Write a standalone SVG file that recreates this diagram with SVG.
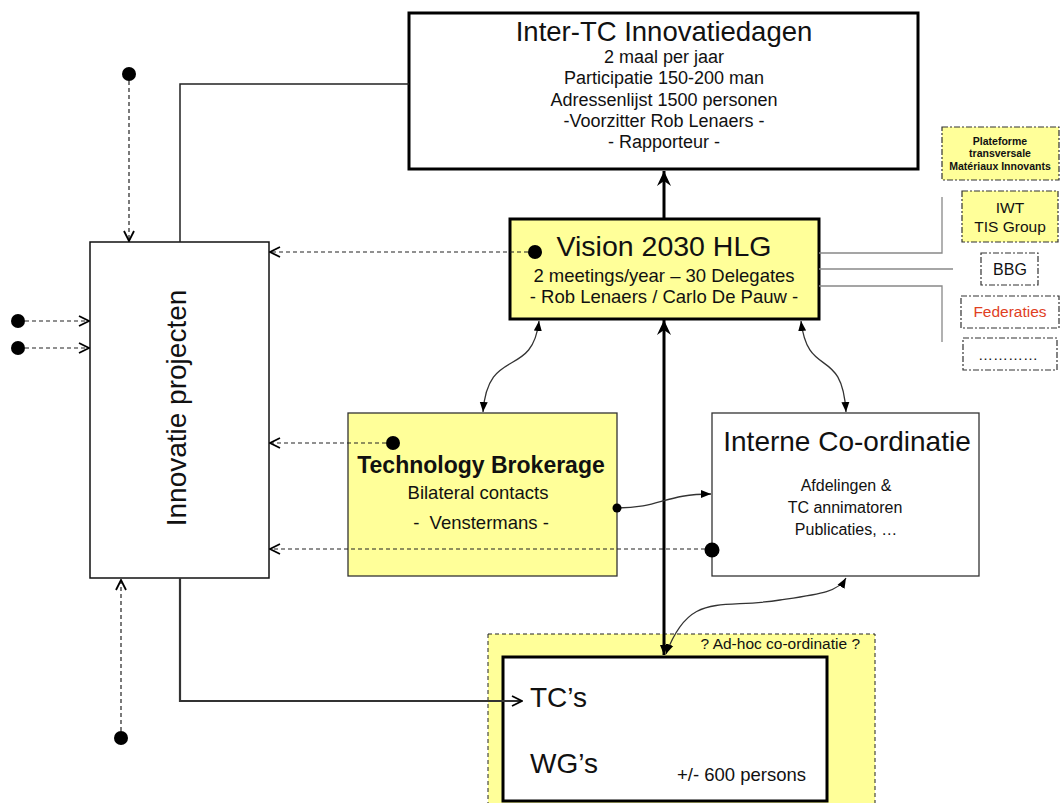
<svg xmlns="http://www.w3.org/2000/svg" width="1061" height="803" viewBox="0 0 1061 803">
<style>
text{font-family:"Liberation Sans",Arial,sans-serif;fill:#111;}
.c{text-anchor:middle;}
.thin{fill:none;stroke:#222;stroke-width:1.5;}
.dash{fill:none;stroke:#222;stroke-width:1.2;stroke-dasharray:4,3;}
.dd{stroke:#333;stroke-width:1.2;stroke-dasharray:6,2,2,2;}
.gray{fill:none;stroke:#888;stroke-width:1.3;}
.curve{fill:none;stroke:#333;stroke-width:1.3;}
.yel{fill:#FFFF99;}
</style>
<defs>
<marker id="v" viewBox="0 0 12 12" refX="11" refY="6" markerWidth="12" markerHeight="12" markerUnits="userSpaceOnUse" orient="auto-start-reverse">
<path d="M1,1 L11,6 L1,11" fill="none" stroke="#000" stroke-width="1.8"/>
</marker>
<marker id="big" viewBox="0 0 16 14" refX="15" refY="7" markerWidth="16" markerHeight="14" markerUnits="userSpaceOnUse" orient="auto-start-reverse">
<path d="M0,0 L15,7 L0,14 L5,7 Z" fill="#000"/>
</marker>
<marker id="tri" viewBox="0 0 10 10" refX="10" refY="5" markerWidth="10" markerHeight="10" markerUnits="userSpaceOnUse" orient="auto-start-reverse">
<path d="M0,1 L10,5 L0,9 Z" fill="#000"/>
</marker>
</defs>

<g id="adhoc">
<rect x="488" y="634" width="387" height="175" class="yel" stroke="#222" stroke-width="1" stroke-dasharray="4,3"/>
<text x="860" y="649" font-size="15.5" text-anchor="end">? Ad-hoc co-ordinatie ?</text>
</g>

<g id="intertc">
<rect x="409" y="13" width="509" height="156" fill="#fff" stroke="#000" stroke-width="3"/>
<text x="664" y="41" font-size="27.5" class="c">Inter-TC Innovatiedagen</text>
<text x="664" y="63" font-size="18" class="c">2 maal per jaar</text>
<text x="664" y="84" font-size="18" class="c">Participatie 150-200 man</text>
<text x="664" y="106" font-size="18" class="c">Adressenlijst 1500 personen</text>
<text x="664" y="127" font-size="18" class="c">-Voorzitter Rob Lenaers -</text>
<text x="664" y="148" font-size="18" class="c">- Rapporteur -</text>
</g>

<g id="innovatie">
<rect x="90" y="242" width="179" height="336" fill="#fff" stroke="#111" stroke-width="1.5"/>
<text transform="translate(186,408) rotate(-90)" font-size="28" class="c">Innovatie projecten</text>
</g>

<g id="vision">
<rect x="510" y="219" width="309" height="100" class="yel" stroke="#000" stroke-width="3"/>
<text x="664" y="256" font-size="28.5" class="c">Vision 2030 HLG</text>
<text x="664" y="282" font-size="18.5" class="c">2 meetings/year – 30 Delegates</text>
<text x="664" y="303" font-size="18.5" class="c">- Rob Lenaers / Carlo De Pauw -</text>
</g>

<g id="tech">
<rect x="348" y="413" width="269" height="163" class="yel" stroke="#333" stroke-width="1.3"/>
<text x="481" y="473" font-size="23" font-weight="bold" class="c">Technology Brokerage</text>
<text x="478" y="499" font-size="18.5" class="c">Bilateral contacts</text>
<text x="481" y="529" font-size="18.5" class="c" xml:space="preserve">-  Venstermans -</text>
</g>

<g id="interne">
<rect x="712" y="413" width="267" height="163" fill="#fff" stroke="#333" stroke-width="1.3"/>
<text x="847" y="451" font-size="28" class="c">Interne Co-ordinatie</text>
<text x="846" y="491" font-size="16" class="c">Afdelingen &amp;</text>
<text x="845" y="513" font-size="16" class="c">TC annimatoren</text>
<text x="846" y="535" font-size="16" class="c">Publicaties, …</text>
</g>

<g id="tcs">
<rect x="503" y="657" width="324" height="144" fill="#fff" stroke="#000" stroke-width="3"/>
<text x="530" y="707" font-size="28">TC’s</text>
<text x="530" y="773" font-size="28">WG’s</text>
<text x="677" y="781" font-size="18.5">+/- 600 persons</text>
</g>

<g id="plateforme">
<rect x="942" y="127" width="117" height="53" class="yel dd"/>
<text x="1000" y="145" font-size="10.5" font-weight="bold" class="c">Plateforme</text>
<text x="1000" y="157" font-size="10.5" font-weight="bold" class="c">transversale</text>
<text x="1000" y="170" font-size="10.5" font-weight="bold" class="c">Matériaux Innovants</text>
</g>
<g id="iwt">
<rect x="962" y="191" width="96" height="51" class="yel dd"/>
<text x="1010" y="213" font-size="15.5" class="c">IWT</text>
<text x="1010" y="232" font-size="15.5" class="c">TIS Group</text>
</g>
<g id="bbg">
<rect x="981" y="253" width="57" height="32" fill="#fff" class="dd"/>
<text x="1010" y="275" font-size="16" class="c">BBG</text>
</g>
<g id="federaties">
<rect x="961" y="296" width="98" height="32" fill="#fff" class="dd"/>
<text x="1010" y="317" font-size="15.5" class="c" style="fill:#E0401F">Federaties</text>
</g>
<g id="more">
<rect x="963" y="338" width="94" height="32" fill="#fff" class="dd"/>
<text x="1008" y="360" font-size="15" class="c">…………</text>
</g>

<g id="connectors">
<polyline points="180,242 180,84 409,84" class="thin"/>
<polyline points="180,578 180,701 522,701" fill="none" stroke="#333" stroke-width="2.2" marker-end="url(#v)"/>
<line x1="129" y1="74" x2="129" y2="241" class="dash" marker-end="url(#v)"/>
<circle cx="129" cy="74" r="7"/>
<line x1="18" y1="321" x2="89" y2="321" class="dash" marker-end="url(#v)"/>
<circle cx="18" cy="321" r="7"/>
<line x1="18" y1="348" x2="89" y2="348" class="dash" marker-end="url(#v)"/>
<circle cx="18" cy="348" r="7"/>
<line x1="121" y1="738" x2="121" y2="580" class="dash" marker-end="url(#v)"/>
<circle cx="121" cy="738" r="7"/>
<line x1="535" y1="252" x2="270" y2="252" class="dash" marker-end="url(#v)"/>
<circle cx="535" cy="252" r="7"/>
<line x1="393" y1="443" x2="270" y2="443" class="dash" marker-end="url(#v)"/>
<circle cx="393" cy="443" r="7"/>
<line x1="712" y1="549" x2="270" y2="549" class="dash" marker-end="url(#v)"/>
<circle cx="712" cy="550" r="7.5"/>
<line x1="664" y1="218" x2="664" y2="171" stroke="#000" stroke-width="3" marker-end="url(#big)"/>
<line x1="664" y1="320" x2="664" y2="655" stroke="#000" stroke-width="3" marker-start="url(#big)" marker-end="url(#tri)"/>
<path d="M539,321 C532,380 488,345 483,412" class="curve" marker-start="url(#tri)" marker-end="url(#tri)"/>
<path d="M801,321 C808,380 842,345 846,412" class="curve" marker-start="url(#tri)" marker-end="url(#tri)"/>
<path d="M617,508 C660,508 665,494 711,494" class="curve" marker-end="url(#tri)"/>
<circle cx="617" cy="508" r="4.5"/>
<path d="M666,654 C690,590 720,610 780,600 C820,594 838,592 846,578" class="curve" marker-start="url(#tri)" marker-end="url(#tri)"/>
<polyline points="819,253 942,253 942,197" class="gray"/>
<line x1="819" y1="269" x2="953" y2="269" class="gray"/>
<polyline points="819,286 942,286 942,342" class="gray"/>
</g>
</svg>
